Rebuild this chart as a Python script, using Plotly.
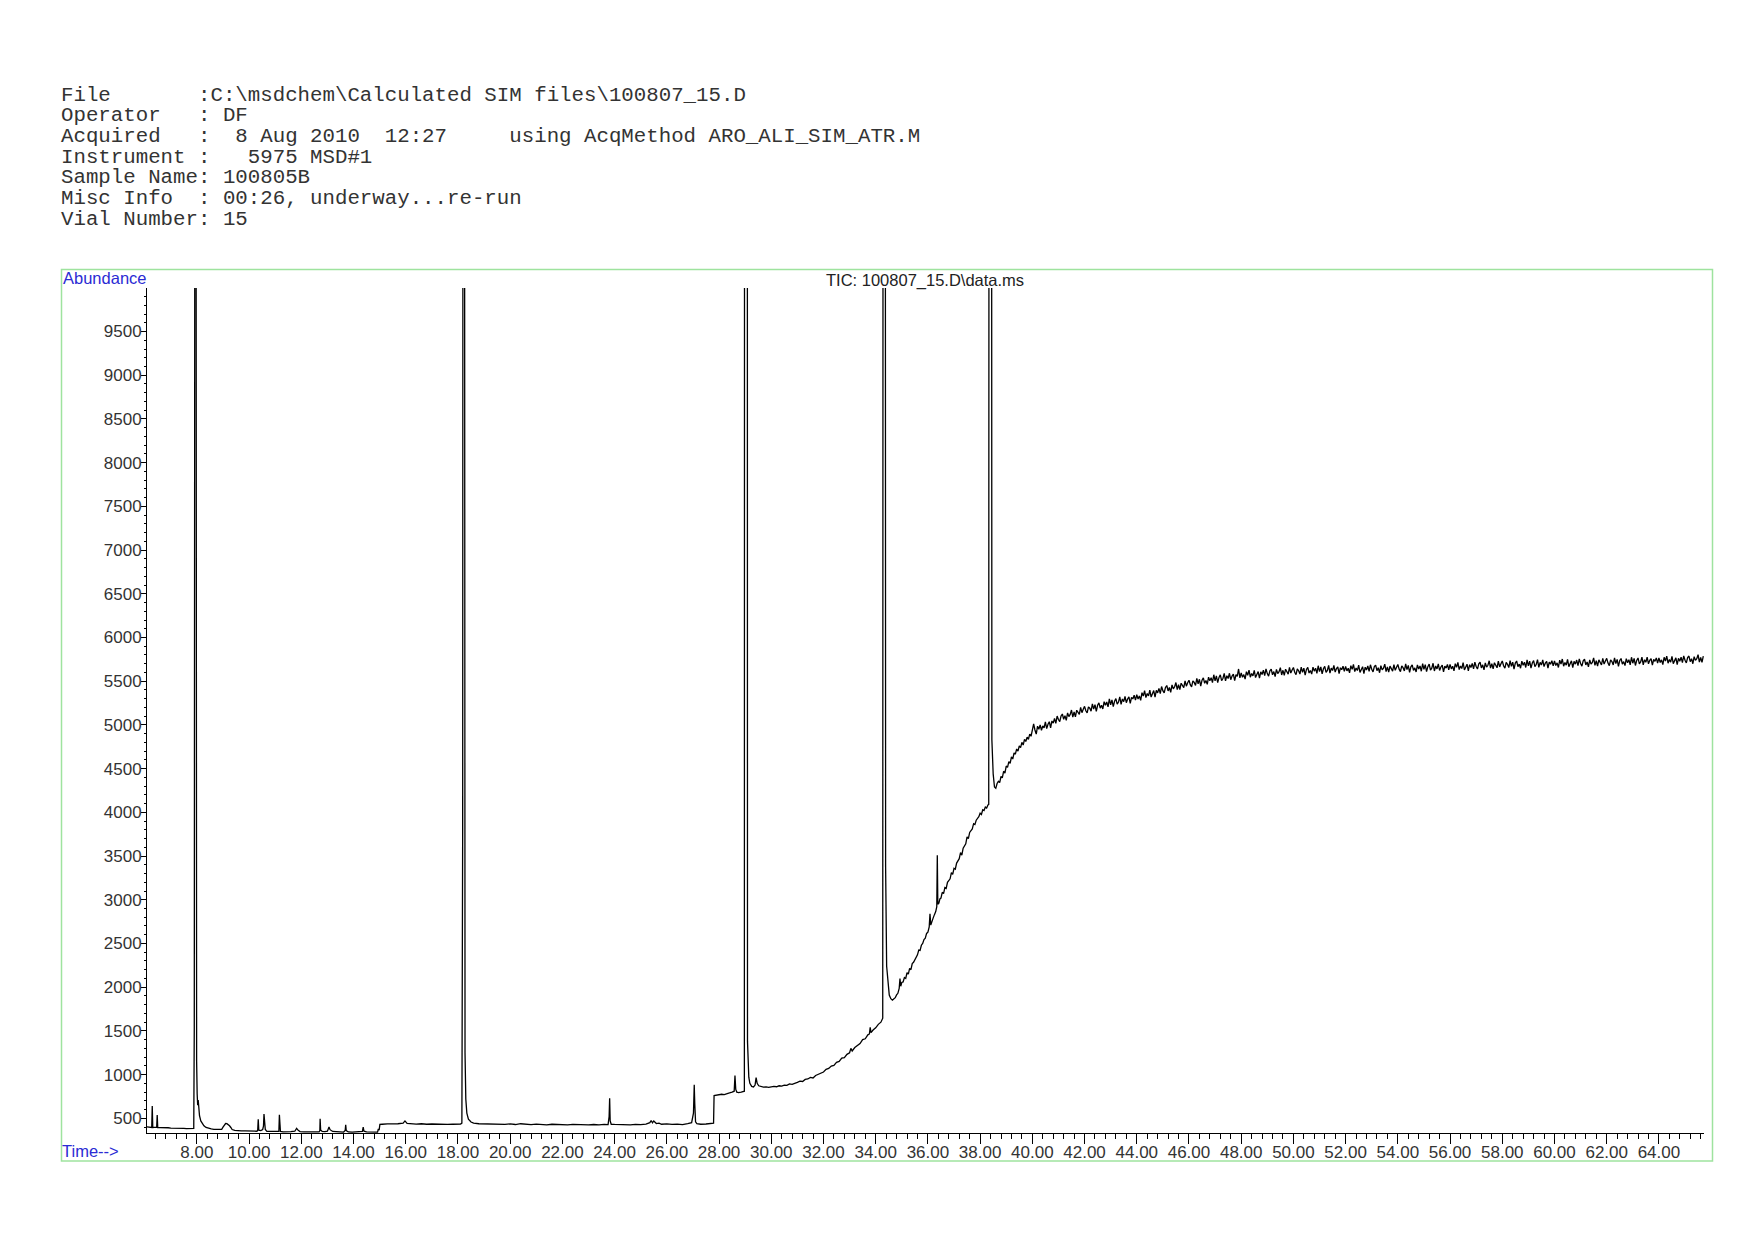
import plotly.graph_objects as go

# ---------------- header text ----------------
header_lines = [
    "File       :C:\\msdchem\\Calculated SIM files\\100807_15.D",
    "Operator   : DF",
    "Acquired   :  8 Aug 2010  12:27     using AcqMethod ARO_ALI_SIM_ATR.M",
    "Instrument :   5975 MSD#1",
    "Sample Name: 100805B",
    "Misc Info  : 00:26, underway...re-run",
    "Vial Number: 15",
]
chart_title = "TIC: 100807_15.D\\data.ms"
y_label = "Abundance"
x_label = "Time-->"

# ---------------- data (retention time in min, abundance) ----------------
rt_early = [6.07, 6.15, 6.22, 6.27, 6.29, 6.31, 6.38, 6.46, 6.48, 6.50,
            6.60, 6.70, 6.80, 6.90, 7.00, 7.10, 7.20, 7.30, 7.40, 7.50,
            7.60, 7.70, 7.80, 7.88,
            7.90, 7.93, 7.96, 7.97, 7.99, 8.01, 8.03, 8.05, 8.07, 8.10,
            8.15, 8.20, 8.27, 8.35, 8.45, 8.55, 8.65, 8.75, 8.85, 8.95,
            9.00, 9.05, 9.10, 9.15, 9.20, 9.25, 9.30, 9.35, 9.45, 9.55,
            9.70, 9.85, 10.00, 10.15, 10.30, 10.33, 10.35, 10.37, 10.45, 10.52,
            10.55, 10.57, 10.59, 10.62, 10.68, 10.80, 10.95, 11.05, 11.14, 11.16,
            11.18, 11.20, 11.30, 11.45, 11.60, 11.75, 11.82, 11.88, 11.95, 12.10,
            12.25, 12.40, 12.55, 12.68, 12.71, 12.72, 12.74, 12.80, 12.90, 13.00,
            13.06, 13.10, 13.20, 13.35, 13.50, 13.62, 13.68, 13.70, 13.72, 13.80,
            13.95, 14.10, 14.25, 14.34, 14.37, 14.40, 14.50, 14.65, 14.80, 14.92,
            14.95, 14.98, 15.01, 15.05, 15.10, 15.30, 15.50, 15.70, 15.90, 15.97,
            16.05, 16.20, 16.40, 16.60, 16.80, 17.00, 17.20, 17.40, 17.60, 17.80,
            18.00, 18.10, 18.15]
ab_early = [402, 398, 400, 396, 641, 395, 397, 399, 538, 394,
            393, 395, 390, 392, 388, 389, 386, 387, 384, 386,
            382, 383, 381, 384,
            1550, 16000, 16000, 6000, 1150, 780, 650, 710, 590, 530,
            470, 440, 415, 395, 385, 378, 374, 372, 370, 375,
            400, 425, 440, 438, 430, 415, 395, 372, 362, 358,
            356, 357, 354, 355, 352, 365, 490, 365, 360, 372,
            410, 550, 420, 372, 350, 348, 349, 347, 350, 540,
            470, 350, 346, 345, 347, 352, 385, 362, 348, 345,
            346, 343, 345, 344, 360, 495, 365, 350, 348, 352,
            400, 370, 350, 346, 344, 343, 360, 425, 360, 344,
            342, 343, 345, 350, 400, 352, 344, 342, 341, 343,
            380, 365, 430, 435, 432, 436, 433, 438, 445, 470,
            442, 436, 434, 438, 432, 435, 431, 433, 430, 432,
            431, 434, 445]

rt_mid = [18.18, 18.20, 18.24, 18.27, 18.30, 18.34, 18.40, 18.50, 18.60, 18.80,
          19.00, 19.20, 19.40, 19.60, 19.80, 20.00, 20.20, 20.40, 20.60, 20.80,
          21.00, 21.20, 21.40, 21.60, 21.80, 22.00, 22.20, 22.40, 22.60, 22.80,
          23.00, 23.20, 23.40, 23.60, 23.75, 23.79, 23.81, 23.83, 23.87, 24.00,
          24.20, 24.40, 24.60, 24.80, 25.00, 25.20, 25.35, 25.40, 25.45, 25.50,
          25.55, 25.60, 25.70, 25.80, 26.00, 26.20, 26.40, 26.60, 26.80, 26.95,
          27.02, 27.05, 27.07, 27.10, 27.15, 27.30, 27.50, 27.70, 27.79, 27.81,
          27.90, 28.00, 28.10, 28.20, 28.30, 28.40, 28.50, 28.58, 28.61, 28.64,
          28.68, 28.75, 28.85, 28.95, 28.97, 28.98, 29.08, 29.09, 29.11, 29.14,
          29.18, 29.25, 29.32, 29.38, 29.42, 29.46, 29.52, 29.60, 29.70, 29.80,
          29.90]
ab_mid = [3800, 20000, 20000, 1250, 720, 560, 490, 458, 445, 438,
          436, 432, 428, 434, 430, 436, 429, 438, 432, 427,
          433, 430, 426, 432, 428, 431, 425, 430, 427, 432,
          426, 429, 424, 430, 428, 520, 730, 470, 432, 430,
          428, 433, 426, 431, 428, 434, 450, 475, 448, 470,
          455, 440, 445, 432, 436, 430, 434, 428, 440, 450,
          560, 885, 670, 460, 440, 432, 435, 438, 445, 760,
          765, 770, 775, 772, 785, 790, 800, 810, 990, 830,
          800, 795, 800, 805, 810, 20000, 20000, 1380, 1080, 970,
          900, 865, 858, 880, 965, 900, 872, 862, 856, 860,
          854]

rt_rise = [30.0, 30.1, 30.2, 30.3, 30.4, 30.5, 30.6, 30.7, 30.8, 30.9,
           31.0, 31.1, 31.2, 31.3, 31.4, 31.5, 31.6, 31.7, 31.8, 31.9,
           32.0, 32.1, 32.2, 32.3, 32.4, 32.5, 32.6, 32.7, 32.8, 32.9,
           33.0, 33.05, 33.1, 33.2, 33.3, 33.4, 33.5, 33.6, 33.7, 33.76,
           33.79, 33.82, 33.9, 34.0, 34.1, 34.2, 34.27, 34.29, 34.36, 34.38,
           34.42, 34.47, 34.52, 34.58, 34.64]
ab_rise = [860, 866, 861, 872, 868, 880, 876, 893, 889, 905,
           912, 925, 921, 945, 950, 968, 962, 990, 1002, 1018,
           1030, 1060, 1070, 1098, 1105, 1140, 1150, 1188, 1195, 1232,
           1250, 1300, 1270, 1310, 1335, 1355, 1400, 1410, 1455, 1465,
           1540, 1480, 1510, 1535, 1575, 1600, 1645, 20000, 20000, 3380,
           2240, 2010, 1910, 1868, 1852]

rt_climb = [34.70, 34.75, 34.80, 34.85, 34.90, 34.93, 34.96, 35.00, 35.05, 35.10,
            35.15, 35.20, 35.25, 35.30, 35.35, 35.40, 35.45, 35.50, 35.55, 35.60,
            35.65, 35.70, 35.75, 35.80, 35.85, 35.90, 35.95, 36.00, 36.05, 36.08,
            36.11, 36.15, 36.20, 36.25, 36.30, 36.34, 36.36, 36.38, 36.42, 36.46,
            36.50, 36.55, 36.60, 36.65, 36.70, 36.75, 36.80, 36.85, 36.90, 36.95,
            37.00, 37.05, 37.10, 37.15, 37.20, 37.25, 37.30, 37.35, 37.40, 37.45,
            37.50, 37.55, 37.60, 37.65, 37.70, 37.75, 37.80, 37.85, 37.90, 37.95,
            38.00, 38.05, 38.10, 38.15, 38.20, 38.25, 38.30, 38.33, 38.35, 38.43]
ab_climb = [1868, 1880, 1912, 1930, 1985, 2100, 2010, 2055, 2060, 2110,
            2100, 2165, 2150, 2215, 2200, 2270, 2285, 2310, 2345, 2370,
            2425, 2420, 2480, 2500, 2545, 2560, 2615, 2630, 2690, 2840,
            2710, 2760, 2790, 2830, 2865, 2920, 3510, 2950, 2960, 3010,
            3020, 3085, 3070, 3140, 3130, 3200, 3215, 3240, 3310, 3290,
            3360, 3350, 3420, 3440, 3470, 3540, 3510, 3590, 3610, 3640,
            3720, 3700, 3770, 3790, 3810, 3870, 3860, 3910, 3925, 3950,
            3990, 3975, 4030, 4020, 4060, 4050, 4085, 4090, 20000, 20000]

rt_tail = [38.45, 38.50, 38.55, 38.60, 38.65, 38.70, 38.75, 38.80, 38.85, 38.90,
           38.95, 39.00, 39.05, 39.10, 39.15, 39.20, 39.25, 39.30, 39.35, 39.40,
           39.45, 39.50, 39.55, 39.60, 39.65, 39.70, 39.75, 39.80, 39.85, 39.90,
           39.95]
ab_tail = [4830, 4440, 4290, 4275, 4330, 4355, 4340, 4410, 4395, 4470,
           4450, 4530, 4515, 4580, 4560, 4635, 4610, 4680, 4665, 4725,
           4700, 4760, 4740, 4800, 4770, 4835, 4810, 4860, 4835, 4895,
           4870]

rt_plateau = [
    40.00, 40.05, 40.10, 40.15, 40.20, 40.25, 40.30, 40.35, 40.40, 40.45, 40.50, 40.55, 40.60, 40.65, 40.70, 40.75, 40.80, 40.85, 40.90, 40.95,
    41.00, 41.05, 41.10, 41.15, 41.20, 41.25, 41.30, 41.35, 41.40, 41.45, 41.50, 41.55, 41.60, 41.65, 41.70, 41.75, 41.80, 41.85, 41.90, 41.95,
    42.00, 42.05, 42.10, 42.15, 42.20, 42.25, 42.30, 42.35, 42.40, 42.45, 42.50, 42.55, 42.60, 42.65, 42.70, 42.75, 42.80, 42.85, 42.90, 42.95,
    43.00, 43.05, 43.10, 43.15, 43.20, 43.25, 43.30, 43.35, 43.40, 43.45, 43.50, 43.55, 43.60, 43.65, 43.70, 43.75, 43.80, 43.85, 43.90, 43.95,
    44.00, 44.05, 44.10, 44.15, 44.20, 44.25, 44.30, 44.35, 44.40, 44.45, 44.50, 44.55, 44.60, 44.65, 44.70, 44.75, 44.80, 44.85, 44.90, 44.95,
    45.00, 45.05, 45.10, 45.15, 45.20, 45.25, 45.30, 45.35, 45.40, 45.45, 45.50, 45.55, 45.60, 45.65, 45.70, 45.75, 45.80, 45.85, 45.90, 45.95,
    46.00, 46.05, 46.10, 46.15, 46.20, 46.25, 46.30, 46.35, 46.40, 46.45, 46.50, 46.55, 46.60, 46.65, 46.70, 46.75, 46.80, 46.85, 46.90, 46.95,
    47.00, 47.05, 47.10, 47.15, 47.20, 47.25, 47.30, 47.35, 47.40, 47.45, 47.50, 47.55, 47.60, 47.65, 47.70, 47.75, 47.80, 47.85, 47.90, 47.95,
    48.00, 48.05, 48.10, 48.15, 48.20, 48.25, 48.30, 48.35, 48.40, 48.45, 48.50, 48.55, 48.60, 48.65, 48.70, 48.75, 48.80, 48.85, 48.90, 48.95,
    49.00, 49.05, 49.10, 49.15, 49.20, 49.25, 49.30, 49.35, 49.40, 49.45, 49.50, 49.55, 49.60, 49.65, 49.70, 49.75, 49.80, 49.85, 49.90, 49.95,
    50.00, 50.05, 50.10, 50.15, 50.20, 50.25, 50.30, 50.35, 50.40, 50.45, 50.50, 50.55, 50.60, 50.65, 50.70, 50.75, 50.80, 50.85, 50.90, 50.95,
    51.00, 51.05, 51.10, 51.15, 51.20, 51.25, 51.30, 51.35, 51.40, 51.45, 51.50, 51.55, 51.60, 51.65, 51.70, 51.75, 51.80, 51.85, 51.90, 51.95,
    52.00, 52.05, 52.10, 52.15, 52.20, 52.25, 52.30, 52.35, 52.40, 52.45, 52.50, 52.55, 52.60, 52.65, 52.70, 52.75, 52.80, 52.85, 52.90, 52.95,
    53.00, 53.05, 53.10, 53.15, 53.20, 53.25, 53.30, 53.35, 53.40, 53.45, 53.50, 53.55, 53.60, 53.65, 53.70, 53.75, 53.80, 53.85, 53.90, 53.95,
    54.00, 54.05, 54.10, 54.15, 54.20, 54.25, 54.30, 54.35, 54.40, 54.45, 54.50, 54.55, 54.60, 54.65, 54.70, 54.75, 54.80, 54.85, 54.90, 54.95,
    55.00, 55.05, 55.10, 55.15, 55.20, 55.25, 55.30, 55.35, 55.40, 55.45, 55.50, 55.55, 55.60, 55.65, 55.70, 55.75, 55.80, 55.85, 55.90, 55.95,
    56.00, 56.05, 56.10, 56.15, 56.20, 56.25, 56.30, 56.35, 56.40, 56.45, 56.50, 56.55, 56.60, 56.65, 56.70, 56.75, 56.80, 56.85, 56.90, 56.95,
    57.00, 57.05, 57.10, 57.15, 57.20, 57.25, 57.30, 57.35, 57.40, 57.45, 57.50, 57.55, 57.60, 57.65, 57.70, 57.75, 57.80, 57.85, 57.90, 57.95,
    58.00, 58.05, 58.10, 58.15, 58.20, 58.25, 58.30, 58.35, 58.40, 58.45, 58.50, 58.55, 58.60, 58.65, 58.70, 58.75, 58.80, 58.85, 58.90, 58.95,
    59.00, 59.05, 59.10, 59.15, 59.20, 59.25, 59.30, 59.35, 59.40, 59.45, 59.50, 59.55, 59.60, 59.65, 59.70, 59.75, 59.80, 59.85, 59.90, 59.95,
    60.00, 60.05, 60.10, 60.15, 60.20, 60.25, 60.30, 60.35, 60.40, 60.45, 60.50, 60.55, 60.60, 60.65, 60.70, 60.75, 60.80, 60.85, 60.90, 60.95,
    61.00, 61.05, 61.10, 61.15, 61.20, 61.25, 61.30, 61.35, 61.40, 61.45, 61.50, 61.55, 61.60, 61.65, 61.70, 61.75, 61.80, 61.85, 61.90, 61.95,
    62.00, 62.05, 62.10, 62.15, 62.20, 62.25, 62.30, 62.35, 62.40, 62.45, 62.50, 62.55, 62.60, 62.65, 62.70, 62.75, 62.80, 62.85, 62.90, 62.95,
    63.00, 63.05, 63.10, 63.15, 63.20, 63.25, 63.30, 63.35, 63.40, 63.45, 63.50, 63.55, 63.60, 63.65, 63.70, 63.75, 63.80, 63.85, 63.90, 63.95,
    64.00, 64.05, 64.10, 64.15, 64.20, 64.25, 64.30, 64.35, 64.40, 64.45, 64.50, 64.55, 64.60, 64.65, 64.70, 64.75, 64.80, 64.85, 64.90, 64.95,
    65.00, 65.05, 65.10, 65.15, 65.20, 65.25, 65.30, 65.35, 65.40, 65.45, 65.50, 65.55, 65.60, 65.65, 65.70]
ab_plateau = [
    4950, 5012, 4942, 4896, 4986, 4950, 5000, 4939, 4988, 4965, 5034, 4957, 5007, 5037, 4966, 5045, 5020, 5074, 5018, 5101,
    5062, 5037, 5102, 5125, 5065, 5105, 5052, 5138, 5095, 5120, 5170, 5090, 5148, 5093, 5168, 5143, 5120, 5200, 5140, 5180,
    5212, 5162, 5138, 5207, 5191, 5157, 5241, 5180, 5232, 5156, 5225, 5252, 5192, 5224, 5182, 5266, 5224, 5262, 5206, 5298,
    5230, 5287, 5210, 5271, 5302, 5237, 5262, 5321, 5236, 5297, 5266, 5327, 5254, 5297, 5320, 5247, 5316, 5297, 5340, 5283,
    5345, 5297, 5331, 5282, 5369, 5330, 5391, 5313, 5359, 5333, 5399, 5319, 5366, 5393, 5319, 5395, 5367, 5418, 5359, 5439,
    5392, 5366, 5429, 5451, 5389, 5428, 5373, 5458, 5413, 5437, 5485, 5404, 5460, 5404, 5477, 5451, 5426, 5505, 5443, 5482,
    5512, 5461, 5435, 5503, 5486, 5451, 5533, 5471, 5522, 5445, 5512, 5538, 5477, 5508, 5464, 5547, 5504, 5541, 5483, 5574,
    5505, 5561, 5483, 5543, 5573, 5507, 5531, 5589, 5503, 5563, 5531, 5591, 5517, 5559, 5581, 5507, 5575, 5555, 5640, 5539,
    5595, 5545, 5576, 5525, 5609, 5568, 5626, 5546, 5589, 5561, 5624, 5542, 5586, 5611, 5534, 5608, 5577, 5626, 5564, 5642,
    5587, 5558, 5619, 5638, 5574, 5610, 5553, 5635, 5588, 5609, 5655, 5571, 5625, 5566, 5637, 5608, 5581, 5657, 5593, 5629,
    5657, 5603, 5575, 5640, 5620, 5582, 5662, 5602, 5650, 5570, 5635, 5658, 5594, 5622, 5581, 5661, 5615, 5649, 5589, 5677,
    5610, 5664, 5584, 5642, 5670, 5602, 5624, 5680, 5592, 5650, 5622, 5680, 5604, 5644, 5664, 5588, 5654, 5632, 5672, 5612,
    5670, 5618, 5648, 5595, 5678, 5635, 5692, 5610, 5652, 5622, 5684, 5600, 5643, 5666, 5588, 5660, 5628, 5675, 5612, 5688,
    5637, 5607, 5667, 5685, 5620, 5655, 5597, 5678, 5630, 5650, 5695, 5610, 5663, 5603, 5673, 5643, 5615, 5690, 5625, 5660,
    5692, 5638, 5610, 5675, 5655, 5617, 5697, 5632, 5680, 5600, 5665, 5688, 5624, 5652, 5606, 5686, 5640, 5674, 5614, 5702,
    5635, 5689, 5609, 5667, 5695, 5627, 5649, 5705, 5617, 5675, 5641, 5699, 5623, 5663, 5683, 5607, 5673, 5651, 5691, 5631,
    5693, 5641, 5671, 5618, 5701, 5658, 5715, 5633, 5675, 5645, 5713, 5629, 5672, 5695, 5617, 5689, 5657, 5704, 5641, 5717,
    5669, 5639, 5699, 5717, 5652, 5687, 5629, 5710, 5662, 5682, 5734, 5649, 5702, 5642, 5712, 5682, 5654, 5729, 5664, 5699,
    5731, 5677, 5649, 5714, 5694, 5656, 5736, 5671, 5719, 5639, 5708, 5731, 5667, 5695, 5649, 5729, 5683, 5717, 5657, 5745,
    5676, 5730, 5650, 5708, 5736, 5668, 5690, 5746, 5658, 5716, 5685, 5743, 5667, 5707, 5727, 5651, 5717, 5695, 5735, 5675,
    5732, 5680, 5710, 5657, 5740, 5697, 5754, 5672, 5714, 5684, 5751, 5667, 5710, 5733, 5655, 5727, 5695, 5742, 5679, 5755,
    5703, 5673, 5733, 5751, 5686, 5721, 5663, 5744, 5696, 5716, 5766, 5681, 5734, 5674, 5744, 5714, 5686, 5761, 5696, 5731,
    5761, 5707, 5679, 5744, 5724, 5686, 5766, 5701, 5749, 5669, 5737, 5760, 5696, 5724, 5678, 5758, 5712, 5746, 5686, 5774,
    5706, 5760, 5680, 5738, 5766, 5698, 5720, 5776, 5688, 5746, 5717, 5775, 5699, 5739, 5759, 5683, 5749, 5727, 5767, 5707,
    5766, 5714, 5744, 5691, 5774, 5731, 5788, 5706, 5748, 5718, 5785, 5701, 5744, 5767, 5689, 5761, 5729, 5776, 5713, 5789,
    5740, 5710, 5770, 5788, 5723, 5758, 5700, 5781, 5738, 5758, 5803, 5718, 5771, 5716, 5786]

x_tick_vals = [8, 10, 12, 14, 16, 18, 20, 22, 24, 26, 28, 30, 32, 34, 36,
               38, 40, 42, 44, 46, 48, 50, 52, 54, 56, 58, 60, 62, 64]
y_tick_vals = [500, 1000, 1500, 2000, 2500, 3000, 3500, 4000, 4500, 5000,
               5500, 6000, 6500, 7000, 7500, 8000, 8500, 9000, 9500]

segments = [(rt_early, ab_early), (rt_mid, ab_mid), (rt_rise, ab_rise),
            (rt_climb, ab_climb), (rt_tail, ab_tail), (rt_plateau, ab_plateau)]
rt, ab = [], []
for t_seg, a_seg in segments:
    assert len(t_seg) == len(a_seg), (len(t_seg), len(a_seg), t_seg[0])
    rt += t_seg
    ab += a_seg

# ---------------- layout geometry (page pixels, page has an 8px body margin) ----------------
OFF = 8
W, H = 1754 - 2 * OFF, 1240 - 2 * OFF
ML, MT = 147 - OFF, 288 - OFF
MR = W - (1704 - OFF)
MB = H - (1133 - OFF)
PW, PH = W - ML - MR, H - MT - MB


def px(page_x):
    return (page_x - OFF - ML) / PW


def py(page_y):
    return (H - MB - (page_y - OFF)) / PH


fig = go.Figure()
fig.add_trace(go.Scatter(x=rt, y=ab, mode="lines",
                         line=dict(color="black", width=1.3),
                         hoverinfo="skip", showlegend=False))

tick_font = dict(family="Liberation Sans, Arial, sans-serif", size=17, color="#333333")
blue = "#2b2bd4"

fig.update_layout(
    width=W, height=H,
    margin=dict(l=ML, r=MR, t=MT, b=MB, autoexpand=False),
    paper_bgcolor="white", plot_bgcolor="white",
    showlegend=False,
    xaxis=dict(range=[6.089, 65.727], tickmode="array", tickvals=x_tick_vals,
               ticktext=[f"{v:.2f}" for v in x_tick_vals],
               ticks="outside", ticklen=10, tickwidth=1, tickcolor="black",
               ticklabelstandoff=-6,
               showline=True, linecolor="black", linewidth=1,
               showgrid=False, zeroline=False, tickfont=tick_font,
               minor=dict(tickmode="linear", tick0=8, dtick=0.4, ticks="outside",
                          ticklen=5, tickwidth=1, tickcolor="black", showgrid=False)),
    yaxis=dict(range=[332, 9998], tickmode="array", tickvals=y_tick_vals,
               ticktext=[str(v) for v in y_tick_vals],
               ticks="outside", ticklen=5, tickwidth=1, tickcolor="black",
               ticklabelstandoff=-4,
               showline=True, linecolor="black", linewidth=1,
               showgrid=False, zeroline=False, tickfont=tick_font,
               minor=dict(tickmode="linear", tick0=0, dtick=100, ticks="outside",
                          ticklen=2, tickwidth=1, tickcolor="black", showgrid=False)),
)

# green frame
fig.add_shape(type="rect", xref="paper", yref="paper",
              x0=px(61.5), x1=px(1712.5), y0=py(1161), y1=py(269.5),
              line=dict(color="#9ee39e", width=1.5), fillcolor="rgba(0,0,0,0)",
              layer="below")

# header lines
line_y0 = 95.0
line_step = 20.72
for i, txt in enumerate(header_lines):
    fig.add_annotation(xref="paper", yref="paper", x=px(59), y=py(line_y0 + i * line_step),
                       text=txt.replace(" ", "\u00a0"), showarrow=False,
                       xanchor="left", yanchor="middle",
                       font=dict(family="Liberation Mono, Courier New, monospace",
                                 size=20.75, color="#333333"))

fig.add_annotation(xref="paper", yref="paper", x=px(925), y=py(280.5), text=chart_title,
                   showarrow=False, xanchor="center", yanchor="middle",
                   font=dict(family="Liberation Sans, Arial, sans-serif", size=16.5, color="#222222"))
fig.add_annotation(xref="paper", yref="paper", x=px(61), y=py(278.5), text=y_label,
                   showarrow=False, xanchor="left", yanchor="middle",
                   font=dict(family="Liberation Sans, Arial, sans-serif", size=16.5, color=blue))
fig.add_annotation(xref="paper", yref="paper", x=px(60), y=py(1151), text=x_label,
                   showarrow=False, xanchor="left", yanchor="middle",
                   font=dict(family="Liberation Sans, Arial, sans-serif", size=16.5, color=blue))

fig.write_html("out.html")
